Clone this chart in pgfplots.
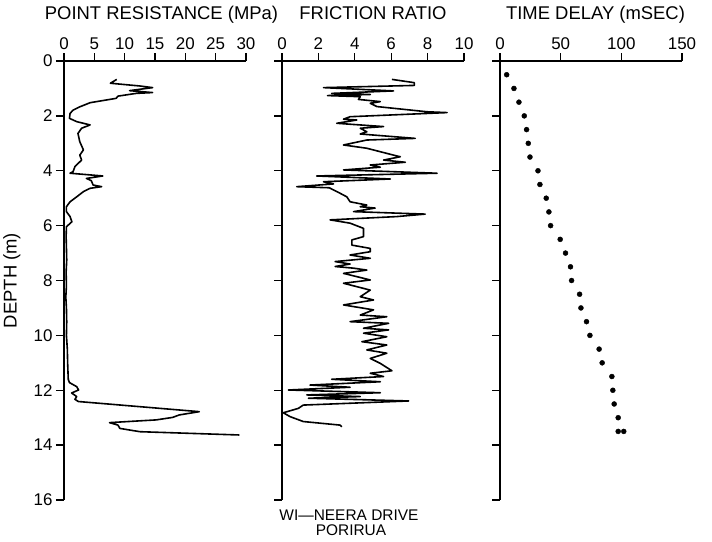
\documentclass[border=0pt]{standalone}
\usepackage{fontspec}
\setmainfont{Liberation Sans}
\usepackage{pgfplots}
\pgfplotsset{compat=1.18}
\begin{document}
\begin{tikzpicture}
\path[use as bounding box] (0bp,0bp) rectangle (712bp,-542bp);
\pgfplotsset{
  panel/.style={
    scale only axis, width=182bp, height=439bp,
    anchor=north west,
    y dir=reverse, ymin=0, ymax=16, ytick={0,2,...,16},
    axis x line*=top, axis y line*=left,
    axis line style={-, line width=1.5bp, black},
    tick align=outside,
    tick style={line width=1.3bp, black},
    major tick length=8bp,
    /pgf/number format/assume math mode=true,
    ticklabel style={font=\fontsize{17}{17}\selectfont},
    title style={font=\fontsize{18.5}{18.5}\selectfont, anchor=base, at={(axis description cs:0.5,1)}, yshift=36bp},
    clip=false,
  },
  trace/.style={black, line width=1.6bp, no marks, line join=round},
}
% Panel 1
\begin{axis}[panel, at={(64bp,-61bp)},
  xmin=0, xmax=30, xtick={0,5,...,30},
  title={POINT RESISTANCE (MPa)},
  title style={xshift=6.5bp},
  ylabel={DEPTH (m)},
  ylabel style={font=\fontsize{18.5}{18.5}\selectfont, at={(axis description cs:-0.286,0.5)}, anchor=center},
]
\addplot[trace] coordinates {
(8.7,0.67)(7.65,0.81)(12.5,0.91)(14.6,0.97)(10.8,1.08)(14.6,1.15)(11.9,1.18)(8.9,1.28)(8.6,1.36)(7.0,1.42)
(4.3,1.52)(2.6,1.67)(1.5,1.79)(1.0,1.91)(0.9,2.09)(2.1,2.21)(4.3,2.33)(2.9,2.45)(2.3,2.64)(2.6,2.94)
(3.2,3.24)(2.6,3.43)(2.9,3.61)(1.8,3.85)(1.5,4.03)(1.0,4.09)(6.4,4.19)(3.7,4.28)(4.5,4.36)(4.8,4.52)
(6.2,4.58)(4.3,4.64)(3.2,4.76)(2.1,4.95)(1.0,5.13)(0.4,5.31)(0.4,5.49)(1.0,5.67)(1.3,5.86)(0.4,6.04)
(0.35,6.4)(0.4,6.8)(0.45,7.25)(0.35,7.7)(0.4,8.2)(0.3,8.6)(0.4,9.0)(0.45,9.5)(0.4,10.0)(0.55,10.5)
(0.6,11.0)(0.65,11.3)(0.7,11.6)(0.9,11.72)(2.1,11.87)(2.4,11.99)(1.25,12.1)(2.1,12.23)(1.8,12.33)(2.35,12.41)
(22.3,12.78)(19.0,12.9)(17.9,12.99)(15.2,13.08)(7.5,13.18)(8.9,13.27)(9.2,13.39)(12.5,13.51)(28.9,13.63)
};
\end{axis}
% Panel 2
\begin{axis}[panel, at={(282bp,-61bp)},
  xmin=0, xmax=10, xtick={0,2,...,10},
  yticklabels={},
  title={FRICTION RATIO},
]
\addplot[trace] coordinates {
(6.04,0.67)(7.27,0.79)(7.27,0.89)(2.28,0.97)(6.13,1.09)(2.73,1.18)(4.85,1.22)(2.5,1.26)(4.3,1.30)(4.2,1.40)
(5.4,1.48)(4.85,1.54)(5.21,1.66)(7.97,1.85)(9.07,1.88)(3.74,2.03)(3.38,2.12)(4.11,2.15)(3.01,2.27)(5.58,2.39)
(4.30,2.45)(4.66,2.58)(4.30,2.66)(7.32,2.82)(4.66,2.88)(3.38,3.06)(4.66,3.18)(6.13,3.43)(6.50,3.49)(5.58,3.61)
(6.77,3.69)(4.85,3.79)(5.40,3.87)(3.38,3.97)(8.52,4.09)(1.91,4.19)(5.95,4.30)(2.28,4.40)(2.83,4.48)(0.81,4.58)
(2.6,4.62)(2.83,4.70)(3.19,4.82)(3.56,4.95)(3.74,5.13)(4.66,5.25)(4.30,5.31)(5.12,5.36)(3.93,5.49)(7.87,5.58)
(6.31,5.67)(2.64,5.79)(3.74,5.91)(4.48,6.10)(4.48,6.40)(3.84,6.52)(3.84,6.71)(4.85,6.83)(4.85,6.95)(3.74,7.07)
(4.85,7.19)(2.92,7.31)(3.74,7.40)(2.92,7.49)(3.93,7.55)(4.66,7.62)(3.38,7.74)(4.85,7.98)(3.38,8.10)(4.85,8.35)
(4.30,8.59)(5.03,8.71)(3.38,8.89)(5.03,9.07)(4.30,9.26)(5.76,9.32)(3.74,9.50)(5.86,9.56)(4.48,9.74)(5.86,9.80)
(4.48,9.92)(5.76,10.05)(4.39,10.23)(5.76,10.35)(4.66,10.53)(5.76,10.65)(4.85,10.84)(5.40,11.02)(6.04,11.29)(4.85,11.38)
(5.58,11.50)(2.73,11.60)(5.40,11.69)(1.54,11.81)(3.74,11.89)(0.35,11.99)(5.40,12.09)(1.36,12.17)(4.30,12.23)(1.45,12.29)
(6.96,12.39)(1.17,12.54)(0.90,12.66)(0.07,12.82)(0.44,12.96)(1.17,13.14)(3.19,13.27)(3.29,13.33)
};
\node[anchor=base, font=\fontsize{15.5}{15.5}\selectfont] at (axis description cs:0.368,-0.047) {WI---NEERA DRIVE};
\node[anchor=base, font=\fontsize{15.5}{15.5}\selectfont] at (axis description cs:0.379,-0.0813) {PORIRUA};
\end{axis}
% Panel 3
\begin{axis}[panel, at={(500bp,-61bp)},
  xmin=0, xmax=150, xtick={0,50,100,150},
  yticklabels={},
  title={TIME DELAY (mSEC)},
  title style={xshift=4.5bp},
]
\addplot[black, only marks, mark=*, mark size=2.5bp] coordinates {
(5.5,0.5)(11.5,1.0)(15.6,1.5)(20.0,2.0)(21.9,2.5)(23.3,3.0)(24.7,3.5)(31.3,4.0)(32.9,4.5)(38.1,5.0)
(40.3,5.5)(41.7,6.0)(49.6,6.5)(54.0,7.0)(58.1,7.5)(59.0,8.0)(65.6,8.5)(66.7,9.0)(71.3,9.5)(74.1,10.0)
(81.7,10.5)(84.2,11.0)(92.2,11.5)(93.0,12.0)(94.1,12.5)(97.4,13.0)(97.4,13.5)(102.0,13.5)
};
\end{axis}
\end{tikzpicture}
\end{document}
